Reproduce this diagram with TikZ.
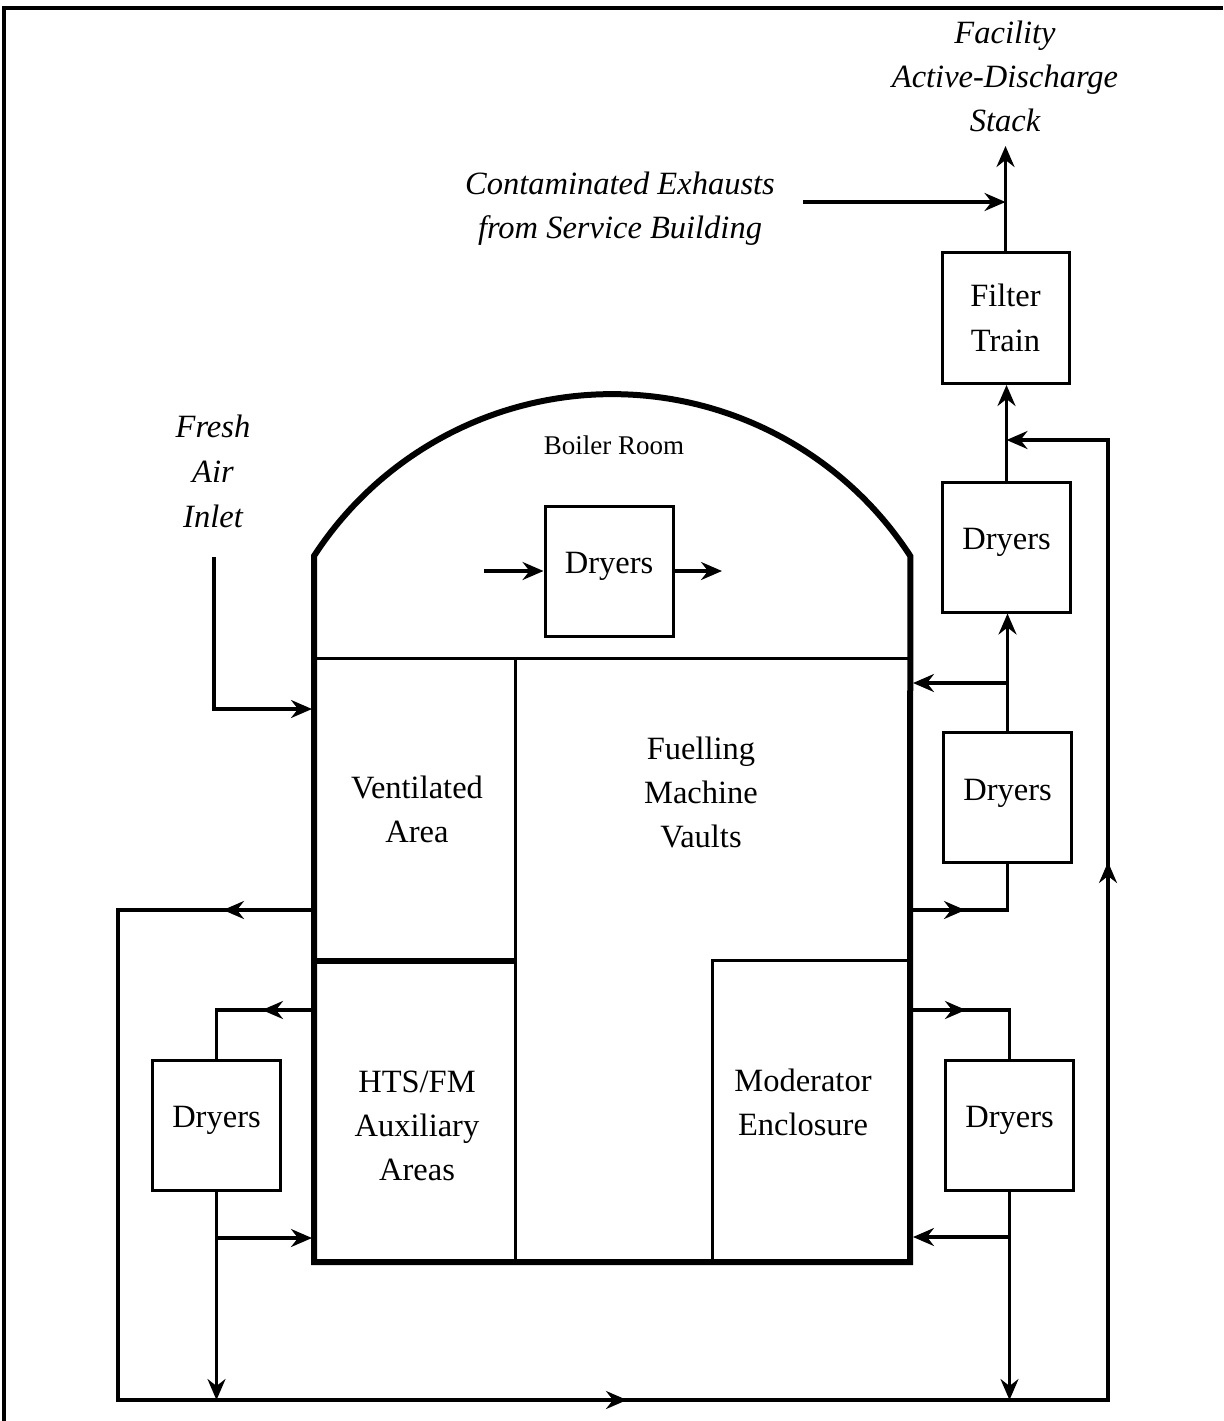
\documentclass[tikz,border=0pt]{standalone}
\usepackage{fontspec}
\setmainfont{Liberation Serif}
\usetikzlibrary{arrows.meta,decorations.markings}
\begin{document}
\begin{tikzpicture}[x=1pt,y=-1pt,
  >={Stealth[length=21pt,width=18pt,inset=7pt]},
  flow/.style={line width=3.1pt},
  wall/.style={line width=6pt, line join=miter},
  part/.style={line width=3pt},
  arrat/.style={postaction={decorate,decoration={markings,mark=at position #1 with {\arrow{>}}}}},
  txt/.style={font=\fontsize{32.5}{44}\selectfont, align=center, inner sep=0pt},
  itxt/.style={font=\fontsize{32.5}{44}\selectfont\itshape, align=center, inner sep=0pt},
  boxs/.style={draw, line width=3pt, minimum width=128pt, minimum height=130pt, inner sep=0pt, font=\fontsize{32.5}{44}\selectfont, align=center},
  dbox/.style={boxs, text depth=16pt},
]
\useasboundingbox (0,0) rectangle (1223,1421);
% frame
\draw[line width=3.5pt] (4,1421) -- (4,8) -- (1223,8);

% building
\draw[wall] (314,1262) -- (314,556) arc[start angle=-147, end angle=-33, radius=355.5] -- (910,1262) -- cycle;
\draw[part] (314,658) -- (910,658);
\draw[part] (515,658) -- (515,1262);
\draw[wall] (314,961) -- (515,961);
\draw[part] (910,960) -- (712,960) -- (712,1262);

% labels inside building
\node[font=\fontsize{27}{32}\selectfont, inner sep=0pt] (boiler) at (614,445) {Boiler Room};
\node[txt] (vent) at (417,809) {Ventilated\\Area};
\node[txt] (fmv) at (701,792) {Fuelling\\Machine\\Vaults};
\node[txt] (hts) at (417,1125.5) {HTS/FM\\Auxiliary\\Areas};
\node[txt] (mod) at (803,1102) {Moderator\\Enclosure};

% boxes
\node[dbox] (bdry) at (609,571) {Dryers};
\node[boxs, minimum width=127pt, minimum height=131pt] (filt) at (1005.5,318) {Filter\\[1pt]Train};
\node[dbox] (dry1) at (1006.5,547) {Dryers};
\node[dbox] (dry2) at (1007.5,797.5) {Dryers};
\node[dbox] (dry3) at (1009.5,1125) {Dryers};
\node[dbox] (dryL) at (216.5,1125) {Dryers};

% italic labels
\node[itxt] (fac) at (1005,76) {Facility\\Active-Discharge\\Stack};
\node[itxt] (cont) at (620,209) {Contaminated Exhausts\\from Service Building};
\node[itxt, font=\fontsize{32.5}{45}\selectfont\itshape] (fresh) at (213,471) {Fresh\\Air\\Inlet};

% coordinates
\coordinate (cStart) at (803,202);
\coordinate (stackTop) at (1005.5,146);
\coordinate (wLtop) at (312,910);
\coordinate (L1) at (118,910);
\coordinate (L2) at (118,1400);
\coordinate (R2) at (1108,1400);
\coordinate (R1) at (1108,440);
\coordinate (J1) at (1006.5,440);
\coordinate (wR683) at (913,683);
\coordinate (wR910) at (913,910);
\coordinate (wR1010) at (913,1010);
\coordinate (wR1237) at (913,1237);
\coordinate (wL1010) at (312,1010);
\coordinate (wL1238) at (312,1238);
\coordinate (fa1) at (214,557);
\coordinate (wL709) at (312,709);
\coordinate (bin) at (484,571);
\coordinate (bout) at (722,571);

% stack and filter
\draw[flow,->] (cStart) -- (cStart -| filt.north);
\draw[flow,->] (filt.north) -- (stackTop);
\draw[flow,->] (dry1.north) -- (dry1.north |- filt.south);

% main loop
\draw[flow,->,arrat=89pt,arrat=1193pt,arrat=2212pt] (wLtop) -- (L1) -- (L2) -- (R2) -- (R1) -- (J1);

% right side
\draw[flow,->] (dry2.north) -- (dry2.north |- dry1.south);
\draw[flow,->] (wR683 -| dry2.north) -- (wR683);
\draw[flow,arrat=52pt] (wR910) -- (wR910 -| dry2.south) -- (dry2.south);
\draw[flow,arrat=53pt] (wR1010) -- (wR1010 -| dry3.north) -- (dry3.north);
\draw[flow,->] (dry3.south) -- (dry3.south |- R2);
\draw[flow,->] (wR1237 -| dry3.south) -- (wR1237);

% left side
\draw[flow,arrat=50pt] (wL1010) -- (wL1010 -| dryL.north) -- (dryL.north);
\draw[flow,->] (dryL.south) -- (dryL.south |- L2);
\draw[flow,->] (wL1238 -| dryL.south) -- (wL1238);
\draw[flow,->] (fa1) -- (fa1 |- wL709) -- (wL709);

% boiler dryers
\draw[flow,->] (bin) -- (bdry.west);
\draw[flow,->] (bdry.east) -- (bout);
\end{tikzpicture}
\end{document}
